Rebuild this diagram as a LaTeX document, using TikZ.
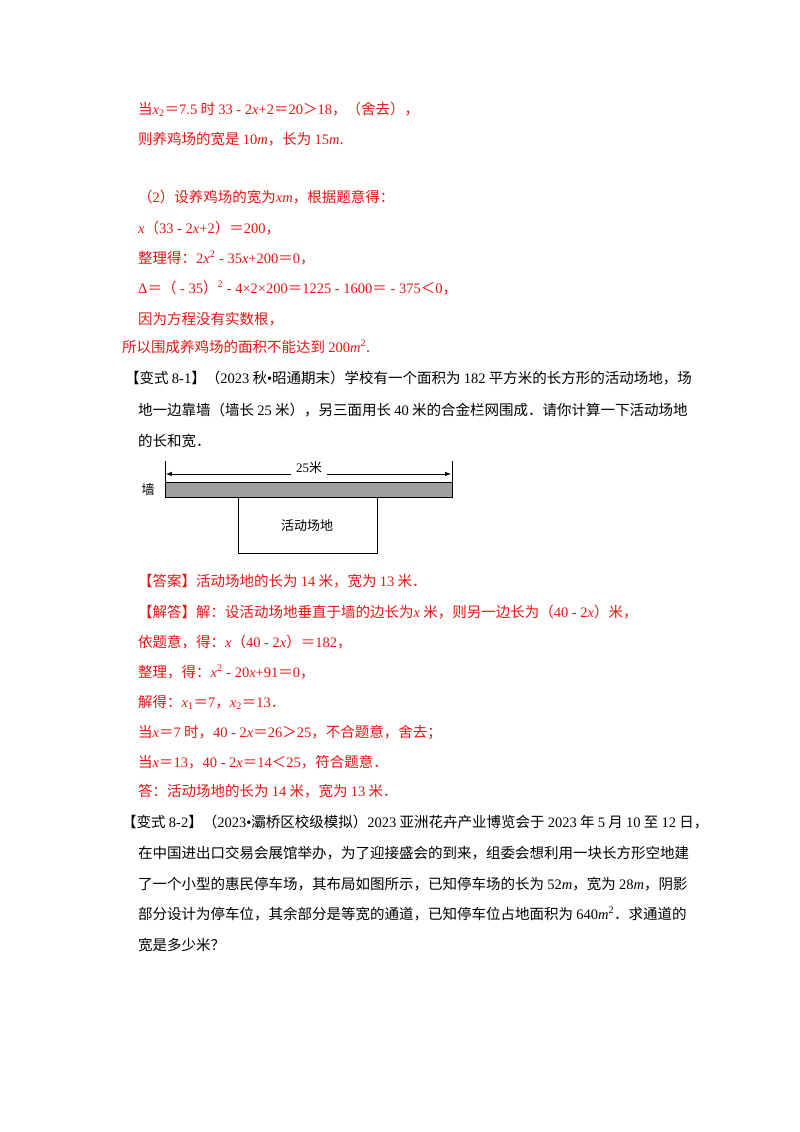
\documentclass[tikz,border=0pt]{standalone}
\usepackage{fontspec}
\setmainfont{Noto Sans CJK SC}
\newfontfamily\R{Liberation Serif}
\newcommand{\nR}[1]{{\R #1}}
\newcommand{\xI}[1]{{\R\itshape #1}}
\definecolor{ans}{RGB}{235,20,20}
\begin{document}
\begin{tikzpicture}[x=1pt,y=-1pt,
  ln/.style={anchor=base west,inner sep=0pt,font=\fontsize{14.5}{16}\selectfont},
  rl/.style={ln,text=ans}]
\useasboundingbox (0,0) rectangle (800,1132);
\fill[white] (0,0) rectangle (800,1132);
\node[rl] (l1) at (138,114) {当\xI{x}\nR{\textsubscript{2}}＝\nR{7.5} 时 \nR{33 - 2}\xI{x}\nR{+2}＝\nR{20}＞\nR{18}，（舍去），};
\node[rl] (l2) at (138,144) {则养鸡场的宽是 \nR{10}\xI{m}，长为 \nR{15}\xI{m}.};
\node[rl] (l3) at (138,202) {（\nR{2}）设养鸡场的宽为\xI{xm}，根据题意得：};
\node[rl] (l4) at (138,233) {\xI{x}（\nR{33 - 2}\xI{x}\nR{+2}）＝\nR{200}，};
\node[rl] (l5) at (138,263) {整理得：\nR{2}\xI{x}\nR{\textsuperscript{2} - 35}\xI{x}\nR{+200}＝\nR{0}，};
\node[rl] (l6) at (138,293) {\nR{Δ}＝（\nR{ - 35}）\nR{\textsuperscript{2} - 4×2×200}＝\nR{1225 - 1600}＝\nR{ - 375}＜\nR{0}，};
\node[rl] (l7) at (138,324) {因为方程没有实数根，};
\node[rl] (l8) at (122,352) {所以围成养鸡场的面积不能达到 \nR{200}\xI{m}\nR{\textsuperscript{2}}.};
\node[ln] (q1) at (125,383) {【变式 \nR{8-1}】（\nR{2023} 秋\nR{•}昭通期末）学校有一个面积为 \nR{182} 平方米的长方形的活动场地，场};
\node[ln] (q2) at (138,415) {地一边靠墙（墙长 \nR{25} 米），另三面用长 \nR{40} 米的合金栏网围成．请你计算一下活动场地};
\node[ln] (q3) at (138,446) {的长和宽．};
% diagram
\fill[black!38] (165,482) rectangle (452,497);
\draw[line width=0.9pt] (165,482) rectangle (452,497);
\draw[line width=0.9pt] (165,461) -- (165,482);
\draw[line width=0.9pt] (452,461) -- (452,482);
\node[inner sep=1pt,font=\fontsize{13}{14}\selectfont] (lab) at (309,468) {\nR{25}米};
\coordinate (aL) at (166,474);
\coordinate (aR) at (451,474);
\draw[-latex,line width=1pt] (lab.west) ++(-4,6) -- (aL);
\draw[-latex,line width=1pt] (lab.east) ++(4,6) -- (aR);
\node[font=\fontsize{13}{14}\selectfont] (wall) at (148,490) {墙};
\node[draw,line width=0.9pt,minimum width=139,minimum height=56,anchor=north west,inner sep=0pt] (box) at (238,497) {};
\node[font=\fontsize{13}{14}\selectfont] (boxt) at (307,526) {活动场地};
% answers
\node[rl] (a1) at (138,586) {【答案】活动场地的长为 \nR{14} 米，宽为 \nR{13} 米．};
\node[rl] (a2) at (138,617) {【解答】解：设活动场地垂直于墙的边长为\xI{x} 米，则另一边长为（\nR{40 - 2}\xI{x}）米，};
\node[rl] (a3) at (138,647) {依题意，得：\xI{x}（\nR{40 - 2}\xI{x}）＝\nR{182}，};
\node[rl] (a4) at (138,677) {整理，得：\xI{x}\nR{\textsuperscript{2} - 20}\xI{x}\nR{+91}＝\nR{0}，};
\node[rl] (a5) at (138,707) {解得：\xI{x}\nR{\textsubscript{1}}＝\nR{7}，\xI{x}\nR{\textsubscript{2}}＝\nR{13}．};
\node[rl] (a6) at (138,737) {当\xI{x}＝\nR{7} 时，\nR{40 - 2}\xI{x}＝\nR{26}＞\nR{25}，不合题意，舍去；};
\node[rl] (a7) at (138,767) {当\xI{x}＝\nR{13}，\nR{40 - 2}\xI{x}＝\nR{14}＜\nR{25}，符合题意．};
\node[rl] (a8) at (138,796) {答：活动场地的长为 \nR{14} 米，宽为 \nR{13} 米．};
\node[ln] (p1) at (122,827) {【变式 \nR{8-2}】（\nR{2023•}灞桥区校级模拟）\nR{2023} 亚洲花卉产业博览会于 \nR{2023} 年 \nR{5} 月 \nR{10} 至 \nR{12} 日，};
\node[ln] (p2) at (138,858) {在中国进出口交易会展馆举办，为了迎接盛会的到来，组委会想利用一块长方形空地建};
\node[ln] (p3) at (138,889) {了一个小型的惠民停车场，其布局如图所示，已知停车场的长为 \nR{52}\xI{m}，宽为 \nR{28}\xI{m}，阴影};
\node[ln] (p4) at (138,919) {部分设计为停车位，其余部分是等宽的通道，已知停车位占地面积为 \nR{640}\xI{m}\nR{\textsuperscript{2}}．求通道的};
\node[ln] (p5) at (138,950) {宽是多少米？};
\end{tikzpicture}
\end{document}
